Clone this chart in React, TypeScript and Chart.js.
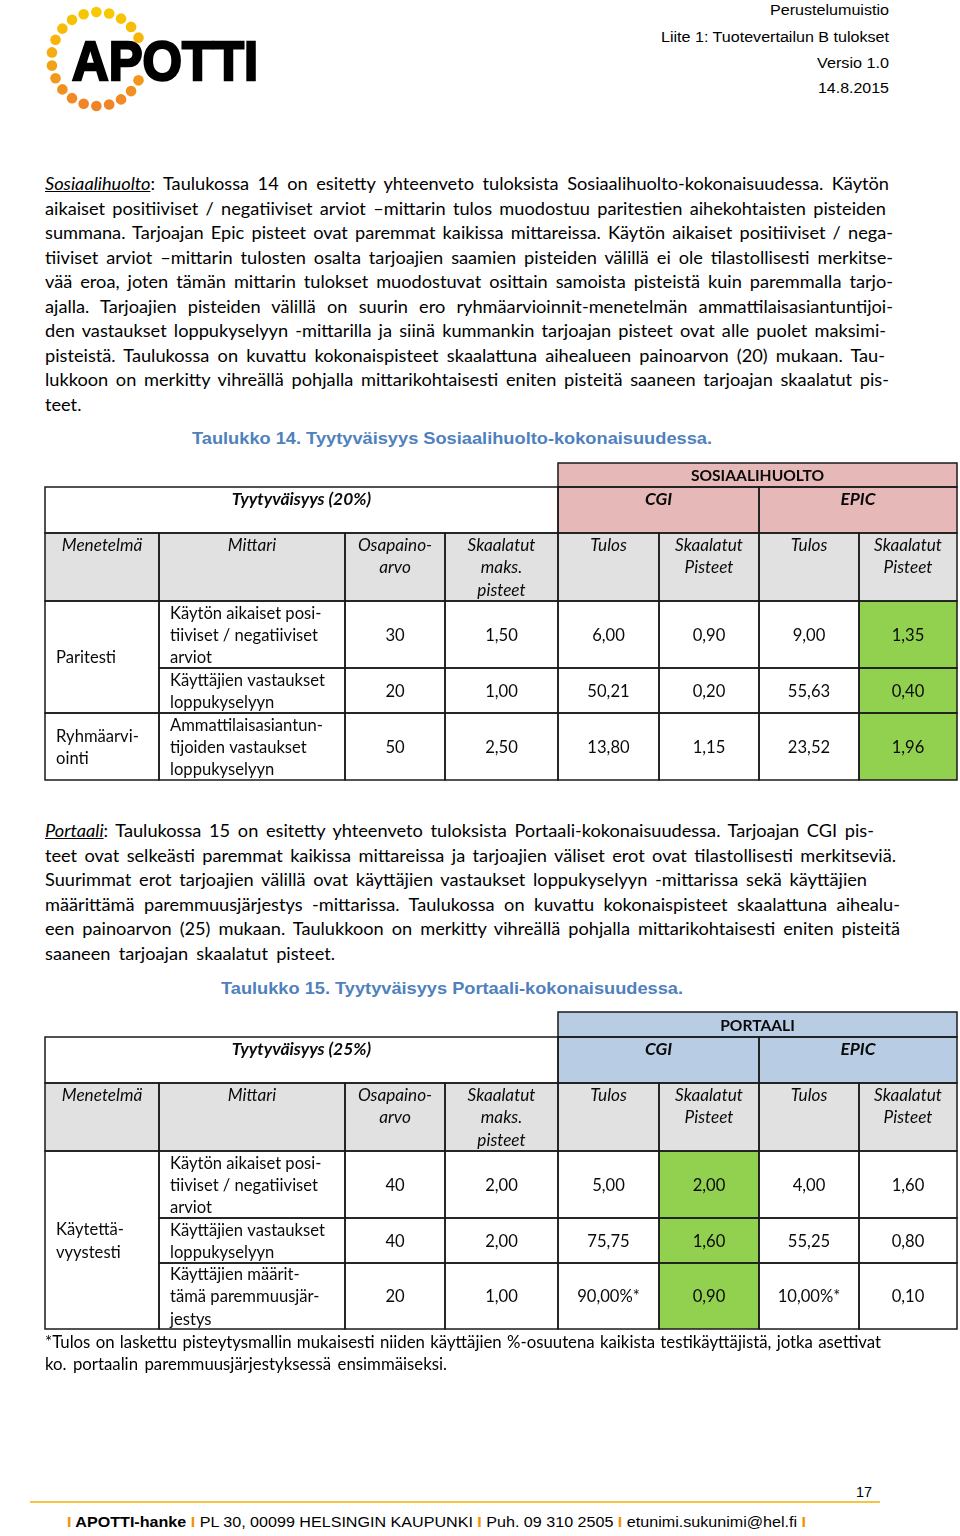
import React, { useEffect, useLayoutEffect, useRef, useState } from 'react';
import { Chart, registerables } from 'chart.js';

Chart.register(...registerables);

// ---------------- DATA ----------------
const VENDORS = ['CGI', 'EPIC'];
const HEADER_LABELS: string[][] = [
  ['Menetelmä'], ['Mittari'], ['Osapaino-', 'arvo'], ['Skaalatut', 'maks.', 'pisteet'],
  ['Tulos'], ['Skaalatut', 'Pisteet'], ['Tulos'], ['Skaalatut', 'Pisteet'],
];

const T1_TITLE = 'SOSIAALIHUOLTO';
const T1_WEIGHT_LABEL = 'Tyytyväisyys (20%)';
const T1_METHODS: string[][] = [['Paritesti'], ['Ryhmäarvi-', 'ointi']];
const T1_METHOD_SPANS = [2, 1];
const T1_MEASURES: string[][] = [
  ['Käytön aikaiset posi-', 'tiiviset / negatiiviset', 'arviot'],
  ['Käyttäjien vastaukset', 'loppukyselyyn'],
  ['Ammattilaisasiantun-', 'tijoiden vastaukset', 'loppukyselyyn'],
];
const T1_WEIGHTS = [30, 20, 50];
const T1_MAX_POINTS = [1.5, 1.0, 2.5];
const T1_CGI_RESULT = [6.0, 50.21, 13.8];
const T1_CGI_POINTS = [0.9, 0.2, 1.15];
const T1_EPIC_RESULT = [9.0, 55.63, 23.52];
const T1_EPIC_POINTS = [1.35, 0.4, 1.96];
const T1_RESULT_SUFFIX = ['', '', ''];
const T1_BEST = 'EPIC';

const T2_TITLE = 'PORTAALI';
const T2_WEIGHT_LABEL = 'Tyytyväisyys (25%)';
const T2_METHODS: string[][] = [['Käytettä-', 'vyystesti']];
const T2_METHOD_SPANS = [3];
const T2_MEASURES: string[][] = [
  ['Käytön aikaiset posi-', 'tiiviset / negatiiviset', 'arviot'],
  ['Käyttäjien vastaukset', 'loppukyselyyn'],
  ['Käyttäjien määrit-', 'tämä paremmuusjär-', 'jestys'],
];
const T2_WEIGHTS = [40, 40, 20];
const T2_MAX_POINTS = [2.0, 2.0, 1.0];
const T2_CGI_RESULT = [5.0, 75.75, 90.0];
const T2_CGI_POINTS = [2.0, 1.6, 0.9];
const T2_EPIC_RESULT = [4.0, 55.25, 10.0];
const T2_EPIC_POINTS = [1.6, 0.8, 0.1];
const T2_RESULT_SUFFIX = ['', '', '%*'];
const T2_BEST = 'CGI';

// ---------------- LAYOUT ----------------
const COL_EDGES = [45, 159, 345, 445, 558, 659, 759, 859, 957];
const T1_ROW_EDGES = [463, 487, 533, 601, 668, 713, 780];
const T2_ROW_EDGES = [1012, 1037, 1083, 1151, 1218, 1263, 1329];

const PINK = '#e6b8b7';
const BLUE = '#b8cce4';
const GRAY = '#e1e1e1';
const GREEN = '#92d050';
const BODY_FONT = 'Lato';

type Cell = {
  c0: number; c1: number; r0: number; r1: number;
  fill?: string; lines?: string[]; bold?: boolean; italic?: boolean;
  align?: 'center' | 'left'; valign?: 'top' | 'middle';
};

const fmt = (v: number) => v.toFixed(2).replace('.', ',');

function buildCells(o: {
  title: string; weightLabel: string; headFill: string; methods: string[][]; spans: number[];
  measures: string[][]; weights: number[]; maxPoints: number[]; cgiRes: number[]; cgiPts: number[];
  epicRes: number[]; epicPts: number[]; suffix: string[]; best: string;
}): Cell[] {
  const cells: Cell[] = [];
  cells.push({ c0: 4, c1: 8, r0: 0, r1: 1, fill: o.headFill, lines: [o.title], bold: true, valign: 'middle' });
  cells.push({ c0: 0, c1: 4, r0: 1, r1: 2, lines: [o.weightLabel], bold: true, italic: true, valign: 'top' });
  cells.push({ c0: 4, c1: 6, r0: 1, r1: 2, fill: o.headFill, lines: [VENDORS[0]], bold: true, italic: true, valign: 'top' });
  cells.push({ c0: 6, c1: 8, r0: 1, r1: 2, fill: o.headFill, lines: [VENDORS[1]], bold: true, italic: true, valign: 'top' });
  HEADER_LABELS.forEach((l, k) => cells.push({ c0: k, c1: k + 1, r0: 2, r1: 3, fill: GRAY, lines: l, italic: true, valign: 'top' }));
  let r = 3;
  o.methods.forEach((m, i) => {
    cells.push({ c0: 0, c1: 1, r0: r, r1: r + o.spans[i], lines: m, align: 'left', valign: 'middle' });
    r += o.spans[i];
  });
  o.measures.forEach((m, i) => {
    const r0 = 3 + i, r1 = 4 + i;
    cells.push({ c0: 1, c1: 2, r0, r1, lines: m, align: 'left', valign: 'middle' });
    cells.push({ c0: 2, c1: 3, r0, r1, lines: [String(o.weights[i])] });
    cells.push({ c0: 3, c1: 4, r0, r1, lines: [fmt(o.maxPoints[i])] });
    cells.push({ c0: 4, c1: 5, r0, r1, lines: [fmt(o.cgiRes[i]) + o.suffix[i]] });
    cells.push({ c0: 5, c1: 6, r0, r1, lines: [fmt(o.cgiPts[i])], fill: o.best === 'CGI' ? GREEN : undefined });
    cells.push({ c0: 6, c1: 7, r0, r1, lines: [fmt(o.epicRes[i]) + o.suffix[i]] });
    cells.push({ c0: 7, c1: 8, r0, r1, lines: [fmt(o.epicPts[i])], fill: o.best === 'EPIC' ? GREEN : undefined });
  });
  return cells;
}

function cellFont(c: Cell) {
  if (c.bold && c.italic) return `italic bold 17.4px ${BODY_FONT}`;
  if (c.bold) return `bold 15.6px ${BODY_FONT}`;
  if (c.italic) return `italic 17.2px ${BODY_FONT}`;
  return `16.6px ${BODY_FONT}`;
}

function makeTablePlugin(cells: Cell[], rowEdges: number[]) {
  return {
    id: 'tableCells',
    afterDraw(chart: any) {
      const xs = chart.scales.x, ys = chart.scales.y;
      const ctx: CanvasRenderingContext2D = chart.ctx;
      const X = (c: number) => xs.getPixelForValue(COL_EDGES[c]);
      const Y = (r: number) => ys.getPixelForValue(rowEdges[r]);
      ctx.save();
      for (const c of cells) {
        if (!c.fill) continue;
        ctx.fillStyle = c.fill;
        ctx.fillRect(X(c.c0), Y(c.r0), X(c.c1) - X(c.c0), Y(c.r1) - Y(c.r0));
      }
      ctx.strokeStyle = '#1a1a1a';
      ctx.lineWidth = 1.5;
      for (const c of cells) {
        ctx.strokeRect(X(c.c0), Y(c.r0), X(c.c1) - X(c.c0), Y(c.r1) - Y(c.r0));
      }
      ctx.fillStyle = '#0a0a0a';
      ctx.textBaseline = 'middle';
      const lh = 22.3;
      for (const c of cells) {
        if (!c.lines) continue;
        ctx.font = cellFont(c);
        const x0 = X(c.c0), x1 = X(c.c1), y0 = Y(c.r0), y1 = Y(c.r1);
        const n = c.lines.length;
        let first: number;
        if (c.valign === 'top') first = y0 + 12.5;
        else first = (y0 + y1) / 2 + 1 - ((n - 1) * lh) / 2;
        c.lines.forEach((t, i) => {
          const yy = first + i * lh;
          if (c.align === 'left') { ctx.textAlign = 'left'; ctx.fillText(t, x0 + 11, yy); }
          else { ctx.textAlign = 'center'; ctx.fillText(t, (x0 + x1) / 2, yy); }
        });
      }
      ctx.restore();
    },
  };
}

function TableChart({ cells, rowEdges, left, top, width, height }: { cells: Cell[]; rowEdges: number[]; left: number; top: number; width: number; height: number }) {
  const ref = useRef<HTMLCanvasElement>(null);
  useEffect(() => {
    if (!ref.current) return;
    const chart = new Chart(ref.current, {
      type: 'scatter',
      data: { datasets: [] },
      options: {
        animation: false,
        responsive: false,
        maintainAspectRatio: false,
        devicePixelRatio: 1,
        layout: { padding: 0 },
        events: [],
        plugins: { legend: { display: false }, tooltip: { enabled: false }, title: { display: false } },
        scales: {
          x: { type: 'linear', display: false, min: left, max: left + width },
          y: { type: 'linear', display: false, min: top, max: top + height, reverse: true },
        },
      },
      plugins: [makeTablePlugin(cells, rowEdges)],
    } as any);
    return () => chart.destroy();
  }, []);
  return (
    <canvas ref={ref} width={width} height={height}
      style={{ position: 'absolute', left, top, width, height }} />
  );
}

// ---------------- TEXT ----------------
type Part = { t: string; i?: boolean; u?: boolean; b?: boolean; color?: string };

function Line({ parts, x, y, w, mode, size, family, color = '#000', weight = 400 }: {
  parts: Part[]; x: number; y: number; w: number; mode: 'justify' | 'fit' | 'plain';
  size: number; family: string; color?: string; weight?: number;
}) {
  const ref = useRef<HTMLSpanElement>(null);
  const done = useRef(false);
  const [st, setSt] = useState({ ws: 0, sx: 1 });
  useLayoutEffect(() => {
    if (done.current || !ref.current) return;
    done.current = true;
    const nat = ref.current.getBoundingClientRect().width;
    const plain = parts.map((p) => p.t).join('');
    const spaces = (plain.match(/ /g) || []).length;
    if (mode === 'fit') setSt({ ws: 0, sx: w / nat });
    else if (mode === 'justify') {
      if (nat > w || spaces === 0) setSt({ ws: 0, sx: Math.min(1, w / nat) });
      else setSt({ ws: (w - nat) / spaces, sx: 1 });
    } else if (nat > w) setSt({ ws: 0, sx: w / nat });
  }, []);
  const lh = size * 1.2;
  return (
    <div style={{ position: 'absolute', left: x, top: y - lh / 2, height: lh, lineHeight: `${lh}px`, whiteSpace: 'nowrap' }}>
      <span ref={ref} style={{
        display: 'inline-block', fontFamily: family, fontSize: size, color, fontWeight: weight,
        wordSpacing: st.ws, transform: `scaleX(${st.sx})`, transformOrigin: 'left center', whiteSpace: 'pre',
      }}>
        {parts.map((p, k) => (
          <span key={k} style={{
            fontStyle: p.i ? 'italic' : 'normal', textDecoration: p.u ? 'underline' : 'none',
            fontWeight: p.b ? 700 : undefined, color: p.color,
          }}>{p.t}</span>
        ))}
      </span>
    </div>
  );
}

const P1_LINES: Part[][] = [
  [{ t: 'Sosiaalihuolto', i: true, u: true }, { t: ': Taulukossa 14 on esitetty yhteenveto tuloksista Sosiaalihuolto-kokonaisuudessa. Käytön' }],
  [{ t: 'aikaiset positiiviset / negatiiviset arviot –mittarin tulos muodostuu paritestien aihekohtaisten pisteiden' }],
  [{ t: 'summana. Tarjoajan Epic pisteet ovat paremmat kaikissa mittareissa. Käytön aikaiset positiiviset / nega-' }],
  [{ t: 'tiiviset arviot –mittarin tulosten osalta tarjoajien saamien pisteiden välillä ei ole tilastollisesti merkitse-' }],
  [{ t: 'vää eroa, joten tämän mittarin tulokset muodostuvat osittain samoista pisteistä kuin paremmalla tarjo-' }],
  [{ t: 'ajalla. Tarjoajien pisteiden välillä on suurin ero ryhmäarvioinnit-menetelmän ammattilaisasiantuntijoi-' }],
  [{ t: 'den vastaukset loppukyselyyn -mittarilla ja siinä kummankin tarjoajan pisteet ovat alle puolet maksimi-' }],
  [{ t: 'pisteistä. Taulukossa on kuvattu kokonaispisteet skaalattuna aihealueen painoarvon (20) mukaan. Tau-' }],
  [{ t: 'lukkoon on merkitty vihreällä pohjalla mittarikohtaisesti eniten pisteitä saaneen tarjoajan skaalatut pis-' }],
  [{ t: 'teet.' }],
];
const P1_Y = [184, 209, 233, 258, 282, 307, 331, 356, 380, 405];
const P1_END = [889, 886, 893, 893, 893, 893, 886, 885, 889, 82];

const P2_LINES: Part[][] = [
  [{ t: 'Portaali', i: true, u: true }, { t: ': Taulukossa 15 on esitetty yhteenveto tuloksista Portaali-kokonaisuudessa. Tarjoajan CGI pis-' }],
  [{ t: 'teet ovat selkeästi paremmat kaikissa mittareissa ja tarjoajien väliset erot ovat tilastollisesti merkitseviä.' }],
  [{ t: 'Suurimmat erot tarjoajien välillä ovat käyttäjien vastaukset loppukyselyyn -mittarissa sekä käyttäjien' }],
  [{ t: 'määrittämä paremmuusjärjestys -mittarissa. Taulukossa on kuvattu kokonaispisteet skaalattuna aihealu-' }],
  [{ t: 'een painoarvon (25) mukaan. Taulukkoon on merkitty vihreällä pohjalla mittarikohtaisesti eniten pisteitä' }],
  [{ t: 'saaneen tarjoajan skaalatut pisteet.' }],
];
const P2_Y = [831, 856, 880, 905, 929, 954];
const P2_END = [874, 896, 867, 900, 900, 335];

const FN_LINES: Part[][] = [
  [{ t: '*Tulos on laskettu pisteytysmallin mukaisesti niiden käyttäjien %-osuutena kaikista testikäyttäjistä, jotka asettivat' }],
  [{ t: 'ko. portaalin paremmuusjärjestyksessä ensimmäiseksi.' }],
];
const FN_Y = [1342, 1364];
const FN_END = [881, 447];

const HEAD_LINES = ['Perustelumuistio', 'Liite 1: Tuotevertailun B tulokset', 'Versio 1.0', '14.8.2015'];
const HEAD_Y = [10, 37, 63, 88];
const HEAD_X = [770, 661, 817, 818];

const ORANGE = '#f39200';
const FOOTER_PARTS: Part[] = [
  { t: 'I ', b: true, color: ORANGE }, { t: 'APOTTI-hanke', b: true }, { t: ' I ', b: true, color: ORANGE },
  { t: 'PL 30, 00099 HELSINGIN KAUPUNKI' }, { t: ' I ', b: true, color: ORANGE }, { t: 'Puh. 09 310 2505' },
  { t: ' I ', b: true, color: ORANGE }, { t: 'etunimi.sukunimi@hel.fi' }, { t: ' I', b: true, color: ORANGE },
];

function Logo() {
  const cx = 97.5, cy = 59, rx = 46, ry = 47;
  const n = 20;
  const dots = Array.from({ length: n }, (_, k) => {
    const a = ((-27 - (306 * k) / (n - 1)) * Math.PI) / 180;
    const x = cx + rx * Math.cos(a), y = cy + ry * Math.sin(a);
    const t = Math.max(0, Math.min(1, (y - 12) / 94));
    const r = Math.round(248 - 8 * t), g = Math.round(200 - 68 * t), b = Math.round(0 + 40 * t);
    return <circle key={k} cx={x} cy={y} r={5.3} fill={`rgb(${r},${g},${b})`} />;
  });
  return (
    <svg width={300} height={120} style={{ position: 'absolute', left: 0, top: 0 }}>
      {dots}
      <text x={72} y={80} fontFamily="Liberation Sans, Arial" fontWeight={700} fontSize={56}
        textLength={186} lengthAdjust="spacingAndGlyphs" fill="#000" stroke="#000" strokeWidth={2.4}>APOTTI</text>
    </svg>
  );
}

export default function App() {
  const t1 = buildCells({
    title: T1_TITLE, weightLabel: T1_WEIGHT_LABEL, headFill: PINK, methods: T1_METHODS, spans: T1_METHOD_SPANS,
    measures: T1_MEASURES, weights: T1_WEIGHTS, maxPoints: T1_MAX_POINTS, cgiRes: T1_CGI_RESULT, cgiPts: T1_CGI_POINTS,
    epicRes: T1_EPIC_RESULT, epicPts: T1_EPIC_POINTS, suffix: T1_RESULT_SUFFIX, best: T1_BEST,
  });
  const t2 = buildCells({
    title: T2_TITLE, weightLabel: T2_WEIGHT_LABEL, headFill: BLUE, methods: T2_METHODS, spans: T2_METHOD_SPANS,
    measures: T2_MEASURES, weights: T2_WEIGHTS, maxPoints: T2_MAX_POINTS, cgiRes: T2_CGI_RESULT, cgiPts: T2_CGI_POINTS,
    epicRes: T2_EPIC_RESULT, epicPts: T2_EPIC_POINTS, suffix: T2_RESULT_SUFFIX, best: T2_BEST,
  });
  const SZ = 18.2;
  return (
    <div style={{ position: 'absolute', left: 0, top: 0, width: 960, height: 1536, background: '#fff', overflow: 'hidden' }}>
      <Logo />
      {HEAD_LINES.map((t, i) => (
        <Line key={'h' + i} parts={[{ t }]} x={HEAD_X[i]} y={HEAD_Y[i]} w={889 - HEAD_X[i]} mode="fit" size={15.5} family="Liberation Sans, Arial" />
      ))}
      {P1_LINES.map((p, i) => (
        <Line key={'a' + i} parts={p} x={45} y={P1_Y[i]} w={P1_END[i] - 45} mode={i === P1_LINES.length - 1 ? 'plain' : 'justify'} size={SZ} family={BODY_FONT} />
      ))}
      <Line parts={[{ t: 'Taulukko 14. Tyytyväisyys Sosiaalihuolto-kokonaisuudessa.' }]} x={192} y={439} w={520} mode="fit" size={17} family="Liberation Sans, Arial" weight={700} color="#4f81bd" />
      <TableChart cells={t1} rowEdges={T1_ROW_EDGES} left={40} top={458} width={922} height={328} />
      {P2_LINES.map((p, i) => (
        <Line key={'b' + i} parts={p} x={45} y={P2_Y[i]} w={P2_END[i] - 45} mode="justify" size={SZ} family={BODY_FONT} />
      ))}
      <Line parts={[{ t: 'Taulukko 15. Tyytyväisyys Portaali-kokonaisuudessa.' }]} x={221} y={989} w={462} mode="fit" size={17} family="Liberation Sans, Arial" weight={700} color="#4f81bd" />
      <TableChart cells={t2} rowEdges={T2_ROW_EDGES} left={40} top={1007} width={922} height={328} />
      {FN_LINES.map((p, i) => (
        <Line key={'f' + i} parts={p} x={45} y={FN_Y[i]} w={FN_END[i] - 45} mode="justify" size={16.8} family={BODY_FONT} />
      ))}
      <Line parts={[{ t: '17' }]} x={856} y={1492} w={16} mode="fit" size={15} family="Liberation Sans, Arial" />
      <div style={{ position: 'absolute', left: 30, top: 1501, width: 850, height: 2, background: '#f5c542' }} />
      <Line parts={FOOTER_PARTS} x={67} y={1522} w={739} mode="fit" size={15} family="Liberation Sans, Arial" />
    </div>
  );
}
